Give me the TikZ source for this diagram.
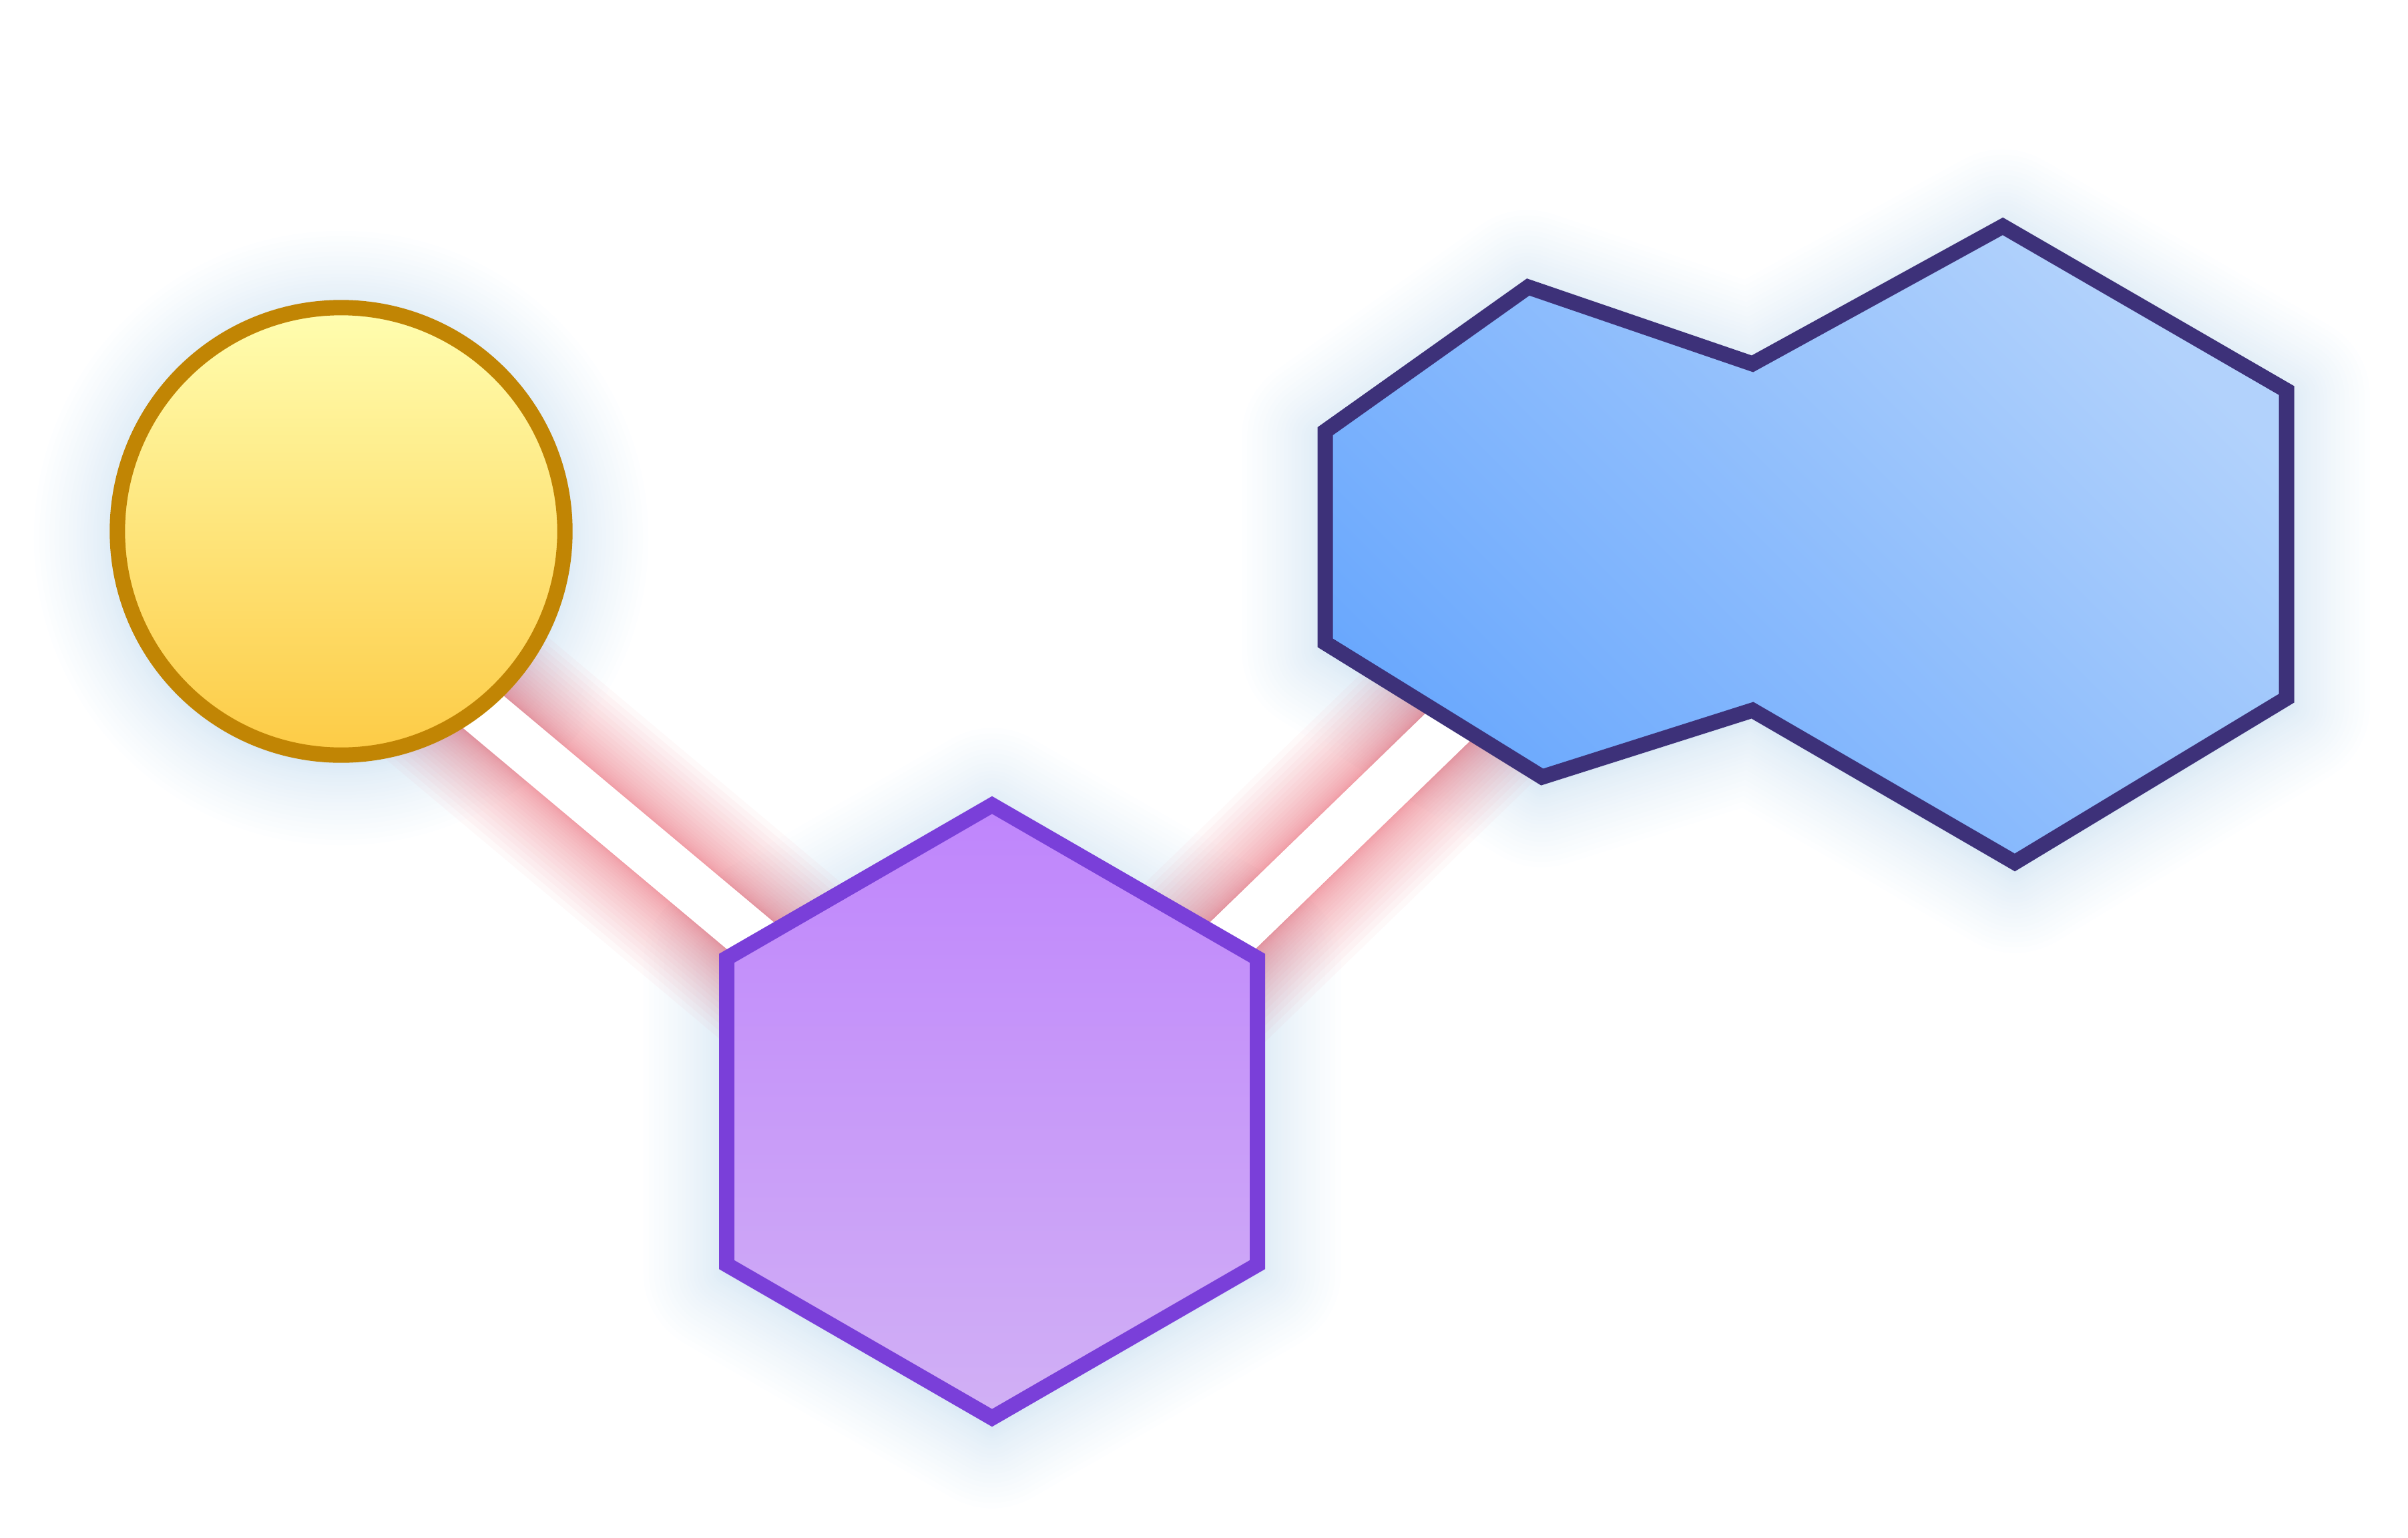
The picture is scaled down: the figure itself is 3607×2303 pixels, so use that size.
\documentclass[tikz,border=0pt]{standalone}
\usetikzlibrary{calc}
\definecolor{circtop}{HTML}{FFFEB0}
\definecolor{circbot}{HTML}{FDCB45}
\definecolor{circline}{HTML}{C18504}
\definecolor{hextop}{HTML}{BF85FC}
\definecolor{hexbot}{HTML}{D1B0F5}
\definecolor{hexline}{HTML}{7A3FD9}
\definecolor{blobdark}{HTML}{6AA8FD}
\definecolor{bloblight}{HTML}{B2D2FC}
\definecolor{blobline}{HTML}{3D3179}
\definecolor{glowblue}{HTML}{B0D0EA}
\definecolor{glowred}{HTML}{E65A69}
\newcommand{\circpath}{(511,796) circle[radius=3.35cm]}
\newcommand{\hexpath}{(1486,1206) -- (1883.5,1435.5) -- (1883.5,1894.5) -- (1486,2124) -- (1088.5,1894.5) -- (1088.5,1435.5) -- cycle}
\newcommand{\blobpath}{(2289,430) -- (2625,545) -- (3000,339) -- (3425,585) -- (3425,1046) -- (3018,1292) -- (2625,1064) -- (2310,1164) -- (1985,963) -- (1985,646) -- cycle}
\begin{document}
\begin{tikzpicture}[x=0.01cm, y=-0.01cm,
  shapeglow/.style={draw=glowblue, draw opacity=0.022, line join=round},
  lineglow/.style={draw=glowred, draw opacity=0.04, line cap=butt},
  link/.style={draw=white, line width=0.76cm},
  outline/.style={line width=0.23cm, line join=miter}]
\useasboundingbox (0,0) rectangle (3607,2303);
% node centres and connector ends
\coordinate (circ) at (511,796);
\coordinate (hex) at (1486,1665);
\coordinate (blob) at (2705,816);
\coordinate (l1a) at (511,888);
\coordinate (l1b) at (1486,1705);
\coordinate (l2a) at (1486,1751);
\coordinate (l2b) at (2400,865);
% soft blue glow round the shapes
\begin{scope}[yshift=-0.1cm]
\foreach \i in {1,...,30} {
  \draw[shapeglow, line width={2.5cm*(\i/30)*(\i/30)}] \circpath;
  \draw[shapeglow, line width={2.5cm*(\i/30)*(\i/30)}] \hexpath;
  \draw[shapeglow, line width={2.5cm*(\i/30)*(\i/30)}] \blobpath;
}
\end{scope}
% red glow round the connectors
\foreach \i in {1,...,24} {
  \draw[lineglow, line width={0.76cm+2.2cm*(\i/24)*(\i/24)}] (l1a) -- (l1b);
  \draw[lineglow, line width={0.76cm+2.2cm*(\i/24)*(\i/24)}] (l2a) -- (l2b);
}
\draw[link] (l1a) -- (l1b);
\draw[link] (l2a) -- (l2b);
% shapes
\path[outline, draw=circline, top color=circtop, bottom color=circbot] \circpath;
\path[outline, draw=hexline, top color=hextop, bottom color=hexbot] \hexpath;
\path[outline, draw=blobline, top color=bloblight, bottom color=blobdark, shading angle=-45] \blobpath;
\end{tikzpicture}
\end{document}
